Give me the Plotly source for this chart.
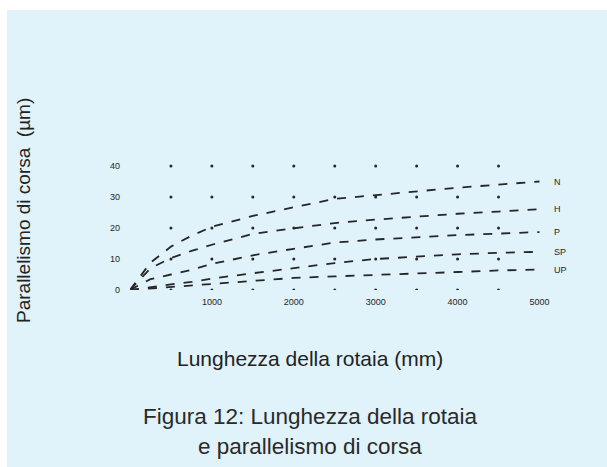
import plotly.graph_objects as go

# Rail length (mm) at which each curve is sampled
rail_length = [0, 250, 500, 750, 1000, 1500, 2000, 2500, 3000, 3500, 4000, 4500, 5000]

# Running parallelism (µm) per accuracy grade
grade_names = ["N", "H", "P", "SP", "UP"]
par_n = [0, 8.8, 14.0, 17.5, 20.4, 23.9, 26.7, 29.4, 30.6, 31.9, 33.0, 34.0, 35.0]
par_h = [0, 7.0, 10.3, 12.6, 14.6, 18.1, 19.9, 21.6, 22.7, 23.7, 24.6, 25.3, 26.1]
par_p = [0, 3.5, 5.0, 6.5, 8.4, 11.2, 13.3, 15.3, 16.3, 17.1, 17.7, 18.2, 18.7]
par_sp = [0, 1.0, 1.8, 2.6, 3.7, 5.4, 7.1, 8.7, 10.0, 10.8, 11.5, 12.0, 12.3]
par_up = [0, 0.5, 0.9, 1.3, 1.8, 3.0, 3.9, 4.4, 4.8, 5.3, 5.8, 6.3, 6.6]
series = [par_n, par_h, par_p, par_sp, par_up]

# Axis ticks
x_ticks = [1000, 2000, 3000, 4000, 5000]
y_ticks = [0, 10, 20, 30, 40]
grid_x = [500, 1000, 1500, 2000, 2500, 3000, 3500, 4000, 4500]

W, H = 607, 467
ML, MR, MT, MB = 130, 2, 164, 177
PW, PH = W - ML - MR, H - MT - MB


def px(x):
    return (x - ML) / PW


def py(y):
    return (H - MB - y) / PH


ink = "#262626"
bg = "#e0f2fa"

fig = go.Figure()

# dot grid at the intersections of the gridlines
gx, gy = [], []
for yv in y_ticks:
    for xv in grid_x:
        gx.append(xv)
        gy.append(yv)
fig.add_trace(go.Scatter(x=gx, y=gy, mode="markers",
                         marker=dict(size=3, color=ink), hoverinfo="skip",
                         showlegend=False))

for name, vals in zip(grade_names, series):
    fig.add_trace(go.Scatter(x=rail_length, y=vals, mode="lines", name=name,
                             line=dict(color=ink, width=1.8, dash="dash"),
                             showlegend=False))
    fig.add_annotation(x=rail_length[-1] + 150, y=vals[-1], text=name,
                       showarrow=False, xanchor="left", yanchor="middle",
                       font=dict(size=9, color=ink))

fig.add_shape(type="rect", xref="paper", yref="paper",
              x0=px(7), x1=px(W), y0=py(H), y1=py(10),
              fillcolor=bg, line=dict(width=0), layer="below")

text_font = "Liberation Sans, Arial, sans-serif"
fig.add_annotation(xref="paper", yref="paper", x=px(23), y=py(211),
                   text="Parallelismo di corsa  (µm)", textangle=-90,
                   showarrow=False, xanchor="center", yanchor="middle",
                   font=dict(size=19, color="#222222", family=text_font))
fig.add_annotation(xref="paper", yref="paper", x=px(310), y=py(358),
                   text="Lunghezza della rotaia (mm)",
                   showarrow=False, xanchor="center", yanchor="middle",
                   font=dict(size=21, color="#222222", family=text_font))
fig.add_annotation(xref="paper", yref="paper", x=px(310), y=py(416),
                   text="Figura 12: Lunghezza della rotaia",
                   showarrow=False, xanchor="center", yanchor="middle",
                   font=dict(size=22.5, color="#2a2a2a", family=text_font))
fig.add_annotation(xref="paper", yref="paper", x=px(310), y=py(446),
                   text="e parallelismo di corsa",
                   showarrow=False, xanchor="center", yanchor="middle",
                   font=dict(size=22.5, color="#2a2a2a", family=text_font))

fig.update_xaxes(range=[0, 5800], tickvals=x_ticks, showgrid=False,
                 zeroline=False, showline=False, ticks="",
                 ticklabelstandoff=5,
                 tickfont=dict(size=9, color=ink), automargin=False)
fig.update_yaxes(range=[0, 40.65], tickvals=y_ticks, showgrid=False,
                 zeroline=False, showline=False, ticks="",
                 ticklabelstandoff=9,
                 tickfont=dict(size=9, color=ink), automargin=False)

fig.update_layout(width=W, height=H,
                  margin=dict(l=ML, r=MR, t=MT, b=MB, pad=0),
                  paper_bgcolor="white", plot_bgcolor="rgba(0,0,0,0)",
                  font=dict(family=text_font))

fig.write_html("out.html")
